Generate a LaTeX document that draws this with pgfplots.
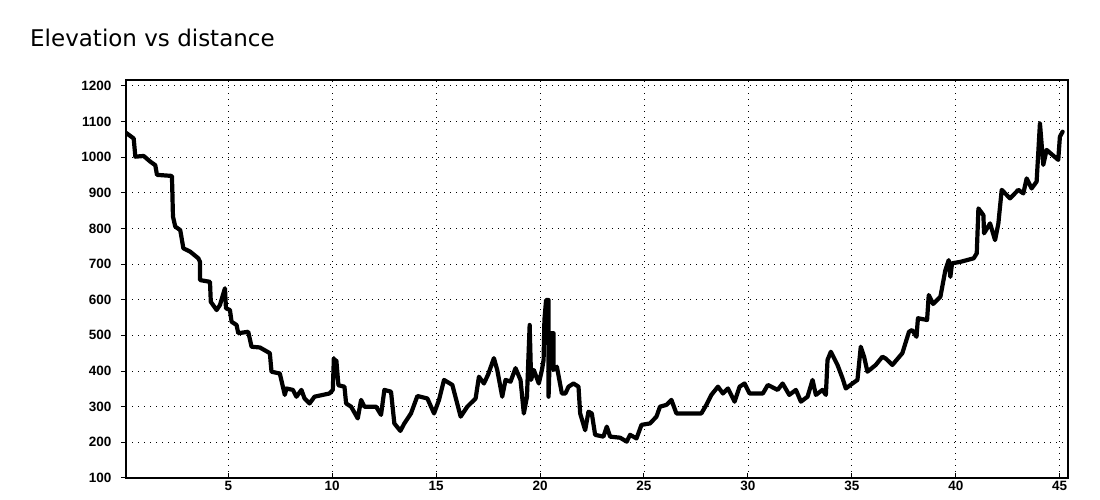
\documentclass[border=0pt]{standalone}
\usepackage{pgfplots}
\pgfplotsset{compat=1.18}
\usepackage{fontspec}
\setmainfont{DejaVu Sans}
\newfontfamily\tickfont{Liberation Sans}
\begin{document}
\begin{tikzpicture}[x=1pt,y=1pt]
\path[use as bounding box] (0,0) rectangle (1100,500);
\node[anchor=base west,inner sep=0pt,font=\fontsize{23}{27}\selectfont] at (30,453) {Elevation vs distance};
\begin{axis}[
  at={(126pt,22pt)}, anchor=south west,
  scale only axis, width=942pt, height=398pt,
  xmin=0.08, xmax=45.4, ymin=100, ymax=1216,
  xtick={5,10,...,45}, ytick={100,200,...,1200},
  tick pos=left,
  /pgf/number format/assume math mode=true,
  /pgf/number format/1000 sep={},
  tick label style={font=\tickfont\bfseries\fontsize{13.5}{15}\selectfont},
  yticklabel style={xshift=-6pt},
  xtick style={black, line width=1pt},
  ytick style={black, line width=1pt},
  major tick length=5pt,
  xtick align=inside, ytick align=outside,
  grid=major,
  major grid style={black, line width=0.8pt, dash pattern=on 1pt off 5pt},
  axis line style={black, line width=2.5pt},
  clip=true,
]
\addplot[black, line width=4.2pt, line join=round, line cap=round] coordinates {
(0.08,1068) (0.45,1052) (0.53,1001) (0.93,1003) (1.25,987) (1.49,977) (1.57,950) (2.29,947)
(2.34,833) (2.45,805) (2.69,795) (2.84,744) (3.16,735) (3.56,716) (3.64,706) (3.64,655)
(4.12,650) (4.16,594) (4.44,571) (4.60,585) (4.84,632) (4.89,576) (5.08,571) (5.16,538)
(5.40,529) (5.48,506) (5.96,510) (6.12,468) (6.52,466) (7.00,450) (7.08,398) (7.48,393)
(7.72,333) (7.80,351) (8.11,347) (8.28,328) (8.52,347) (8.67,323) (8.91,309) (9.15,328)
(9.31,330) (9.87,337) (10.03,347) (10.08,436) (10.13,400) (10.20,430) (10.30,360) (10.59,356)
(10.67,309) (10.91,300) (11.23,267) (11.39,319) (11.55,300) (12.11,300) (12.35,277) (12.51,347)
(12.83,342) (12.99,253) (13.28,232) (13.47,253) (13.79,281) (14.10,330) (14.58,323) (14.90,281)
(15.14,319) (15.38,375) (15.78,361) (16.18,272) (16.50,300) (16.90,323) (17.06,384) (17.30,365)
(17.50,390) (17.78,436) (17.94,403) (18.18,328) (18.34,375) (18.58,370) (18.82,408) (19.06,375)
(19.22,281) (19.37,328) (19.50,529) (19.57,375) (19.70,403) (19.94,365) (20.09,403) (20.17,431)
(20.21,543) (20.29,599) (20.41,599) (20.41,328) (20.50,506) (20.65,506) (20.65,403) (20.81,412)
(21.05,337) (21.22,337) (21.37,356) (21.61,365) (21.85,356) (21.93,281) (22.17,234) (22.33,286)
(22.49,281) (22.65,221) (23.05,216) (23.21,244) (23.37,216) (23.85,213) (24.17,202) (24.33,221)
(24.64,211) (24.88,249) (25.29,253) (25.60,272) (25.77,300) (26.08,305) (26.32,319) (26.56,281)
(27.04,281) (27.76,281) (28.00,305) (28.24,333) (28.56,356) (28.80,337) (29.04,351) (29.36,314)
(29.60,356) (29.84,365) (30.08,337) (30.72,337) (30.96,361) (31.43,347) (31.67,365) (31.99,333)
(32.31,347) (32.55,314) (32.87,328) (33.11,375) (33.27,333) (33.59,347) (33.75,333) (33.83,431)
(33.99,454) (34.31,417) (34.55,380) (34.71,351) (35.03,365) (35.27,375) (35.43,468) (35.59,440)
(35.75,398) (36.15,417) (36.47,440) (36.63,435) (36.95,417) (37.43,450) (37.75,510) (37.90,515)
(38.11,496) (38.18,548) (38.62,543) (38.70,613) (38.91,588) (39.26,608) (39.50,683) (39.66,711)
(39.74,664) (39.82,702) (40.22,706) (40.86,716) (41.01,730) (41.09,856) (41.33,837) (41.36,786)
(41.65,814) (41.89,767) (42.05,814) (42.21,908) (42.61,884) (43.01,908) (43.25,898) (43.41,940)
(43.65,912) (43.89,931) (44.05,1095) (44.21,978) (44.37,1020) (44.93,992) (45.01,1057) (45.14,1071)
};
\end{axis}
\end{tikzpicture}
\end{document}
